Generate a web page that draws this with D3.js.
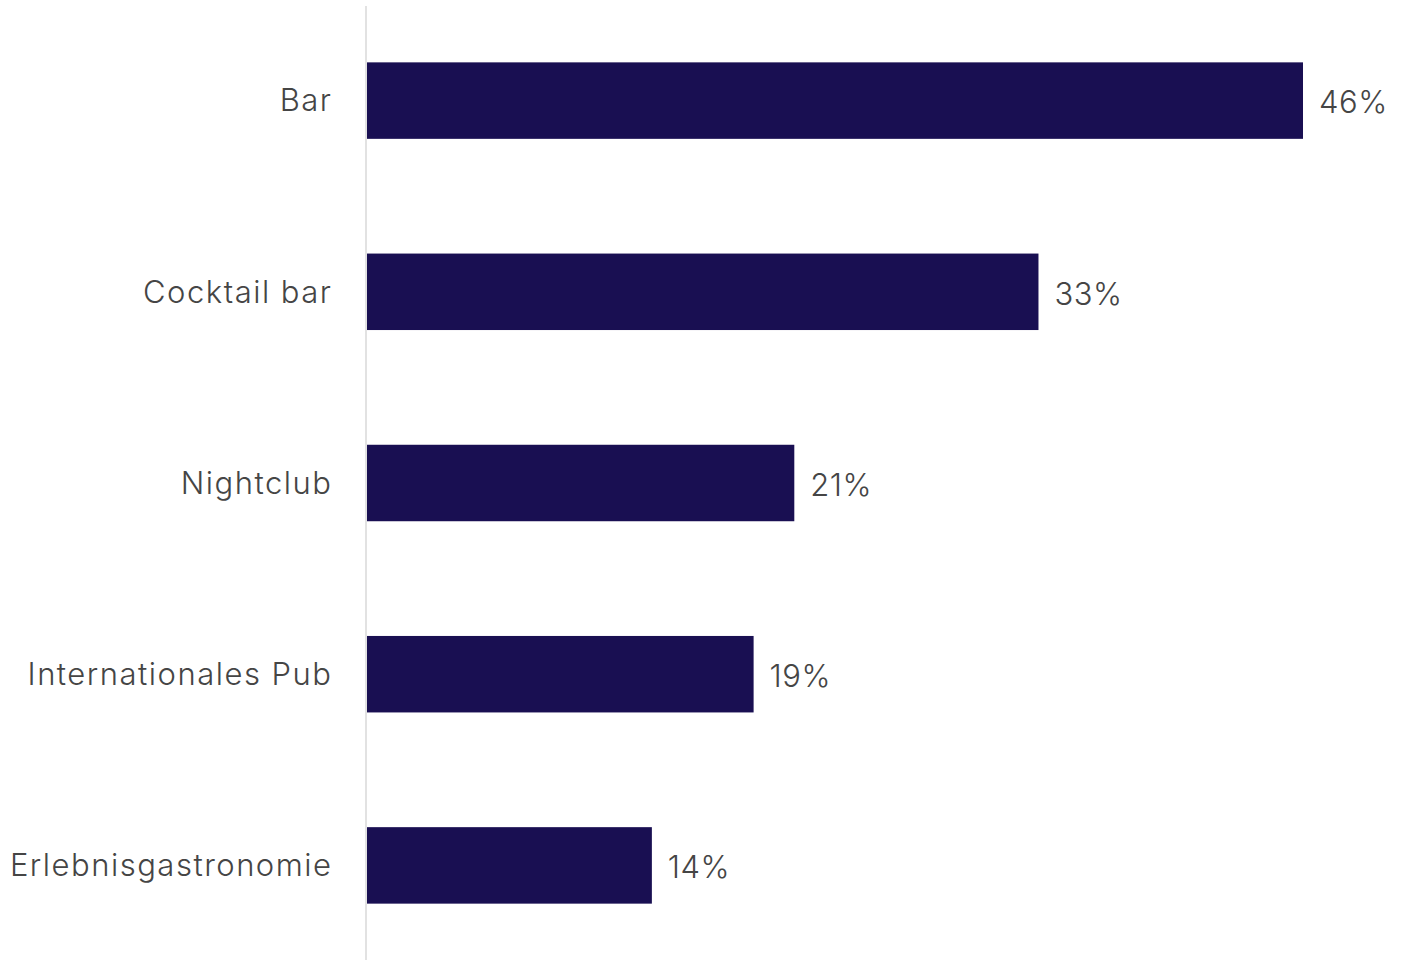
<!DOCTYPE html>
<html>
<head>
<meta charset="utf-8">
<script src="https://cdn.jsdelivr.net/npm/d3@7"></script>
<style>
  html, body { margin: 0; padding: 0; background: #ffffff; }
  svg text { font-family: Inter, "Open Sans", "DejaVu Sans", sans-serif; font-weight: 300; fill: #454545; }
</style>
</head>
<body>
<svg id="chart" width="1409" height="960"></svg>
<script>
const categories = ["Bar", "Cocktail bar", "Nightclub", "Internationales Pub", "Erlebnisgastronomie"];
const values = [46, 33, 21, 19, 14];
const valueLabels = ["46%", "33%", "21%", "19%", "14%"];

const svg = d3.select("#chart");
const width = 1409, height = 960;
const x0 = 367;

const y = d3.scaleBand()
  .domain(categories)
  .range([5, 961])
  .paddingInner(0.6)
  .paddingOuter(0.3);

const x = d3.scaleLinear()
  .domain([0, 46])
  .range([x0, 1303]);

// baseline
svg.append("line")
  .attr("x1", x0 - 1).attr("x2", x0 - 1)
  .attr("y1", 6).attr("y2", height)
  .attr("stroke", "#e2e2e2")
  .attr("stroke-width", 2);

const rows = categories.map((c, i) => ({ c, v: values[i], label: valueLabels[i] }));

svg.selectAll("rect.bar")
  .data(rows)
  .join("rect")
  .attr("class", "bar")
  .attr("x", x0)
  .attr("y", d => y(d.c))
  .attr("width", d => x(d.v) - x0)
  .attr("height", y.bandwidth())
  .attr("fill", "#190f52");

svg.selectAll("text.cat")
  .data(rows)
  .join("text")
  .attr("class", "cat")
  .attr("x", 332.5)
  .attr("y", d => y(d.c) + y.bandwidth() / 2)
  .attr("dy", "0.35em")
  .attr("text-anchor", "end")
  .attr("font-size", 31)
  .attr("letter-spacing", 1.5)
  .text(d => d.c);

svg.selectAll("text.val")
  .data(rows)
  .join("text")
  .attr("class", "val")
  .attr("x", d => x(d.v) + 16)
  .attr("y", d => y(d.c) + y.bandwidth() / 2 + 2)
  .attr("dy", "0.35em")
  .attr("font-size", 31)
  .attr("letter-spacing", 0.5)
  .text(d => d.label);
</script>
</body>
</html>
